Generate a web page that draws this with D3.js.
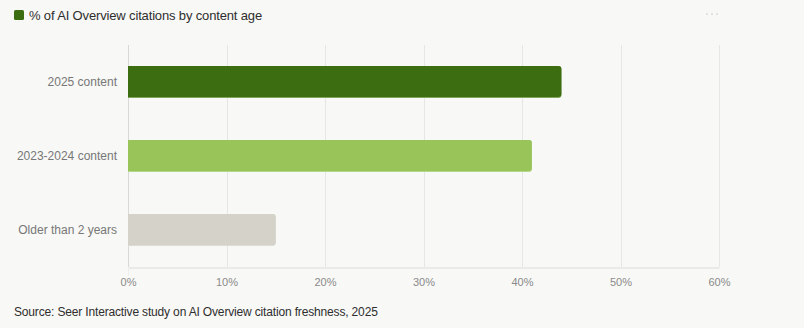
<!DOCTYPE html>
<html><head><meta charset="utf-8">
<script src="https://cdn.jsdelivr.net/npm/d3@7"></script>
<style>
html,body{margin:0;padding:0;background:#f8f8f6;}
svg{display:block;}
</style></head>
<body>
<svg id="chart" width="804" height="328"></svg>
<script>
const categories = ["2025 content", "2023-2024 content", "Older than 2 years"];
const values = [44, 41, 15];
const barColors = ["#3c6e11", "#98c45a", "#d5d2ca"];
const edgeColors = ["#7fa45a", "#b5d78c", "#dedbd4"];
const tickValues = [0, 10, 20, 30, 40, 50, 60];
const legendLabel = "% of AI Overview citations by content age";
const sourceText = "Source: Seer Interactive study on AI Overview citation freshness, 2025";

const svg = d3.select("#chart");
svg.append("rect").attr("width", 804).attr("height", 328).attr("fill", "#f8f8f6");

const x = d3.scaleLinear().domain([0, 60]).range([128, 719]);
const y = d3.scaleBand().domain(categories).range([45, 267]).paddingInner(0.57).paddingOuter(0.285);

// grid
svg.append("g").selectAll("line").data(tickValues.slice(1)).join("line")
  .attr("x1", d => Math.round(x(d)) + 0.5).attr("x2", d => Math.round(x(d)) + 0.5)
  .attr("y1", 45).attr("y2", 267)
  .attr("stroke", "#e6e6e4").attr("stroke-width", 1);

// x axis
const xAxis = svg.append("g").attr("transform", "translate(0,267.5)")
  .call(d3.axisBottom(x).tickValues(tickValues).tickFormat(d => d + "%").tickSize(8).tickSizeOuter(0));
xAxis.select(".domain").attr("stroke", "#dcdcda");
xAxis.selectAll(".tick line").attr("stroke", "#eeeeec");
xAxis.selectAll(".tick text").attr("fill", "#8a8a8a").attr("font-size", 11)
  .attr("font-family", "Liberation Sans, Arial, sans-serif").attr("dy", "0.95em").attr("y", 8);
xAxis.selectAll(".tick").filter(d => d !== 0).select("line").remove();

// y axis line
svg.append("line").attr("x1", 128.5).attr("x2", 128.5).attr("y1", 45).attr("y2", 267)
  .attr("stroke", "#d8d8d6");

// y labels
const yAxis = svg.append("g").attr("transform", "translate(128,0)")
  .call(d3.axisLeft(y).tickSize(0).tickPadding(11));
yAxis.select(".domain").remove();
yAxis.selectAll(".tick text").attr("fill", "#777").attr("font-size", 12)
  .attr("font-family", "Liberation Sans, Arial, sans-serif");

// bars
const r = 3;
function barPath(x0, x1, y0, h) {
  return `M${x0},${y0}H${x1 - r}Q${x1},${y0} ${x1},${y0 + r}V${y0 + h - r}Q${x1},${y0 + h} ${x1 - r},${y0 + h}H${x0}Z`;
}
const bars = svg.append("g").selectAll("g").data(categories).join("g");
bars.append("path")
  .attr("d", (d, i) => barPath(x(0), x(values[i]), y(d), y.bandwidth()))
  .attr("fill", (d, i) => edgeColors[i]);
bars.append("path")
  .attr("d", (d, i) => barPath(x(0), x(values[i]), y(d), y.bandwidth() - 1))
  .attr("fill", (d, i) => barColors[i]);

// legend
svg.append("rect").attr("x", 14).attr("y", 10).attr("width", 10).attr("height", 10).attr("rx", 1.5)
  .attr("fill", barColors[0]);
svg.append("text").attr("x", 29).attr("y", 20).text(legendLabel)
  .attr("font-family", "Liberation Sans, Arial, sans-serif").attr("font-size", 13)
  .attr("letter-spacing", -0.15).attr("fill", "#2e2e2e");

// menu dots
svg.append("g").selectAll("rect").data([0, 1, 2]).join("rect")
  .attr("x", d => 706 + d * 5).attr("y", 13).attr("width", 2).attr("height", 2).attr("fill", "#e2e2e0");

// source
svg.append("text").attr("x", 14).attr("y", 316).text(sourceText)
  .attr("font-family", "Liberation Sans, Arial, sans-serif").attr("font-size", 12)
  .attr("letter-spacing", -0.16).attr("fill", "#2e2e2e");
</script>
</body></html>
